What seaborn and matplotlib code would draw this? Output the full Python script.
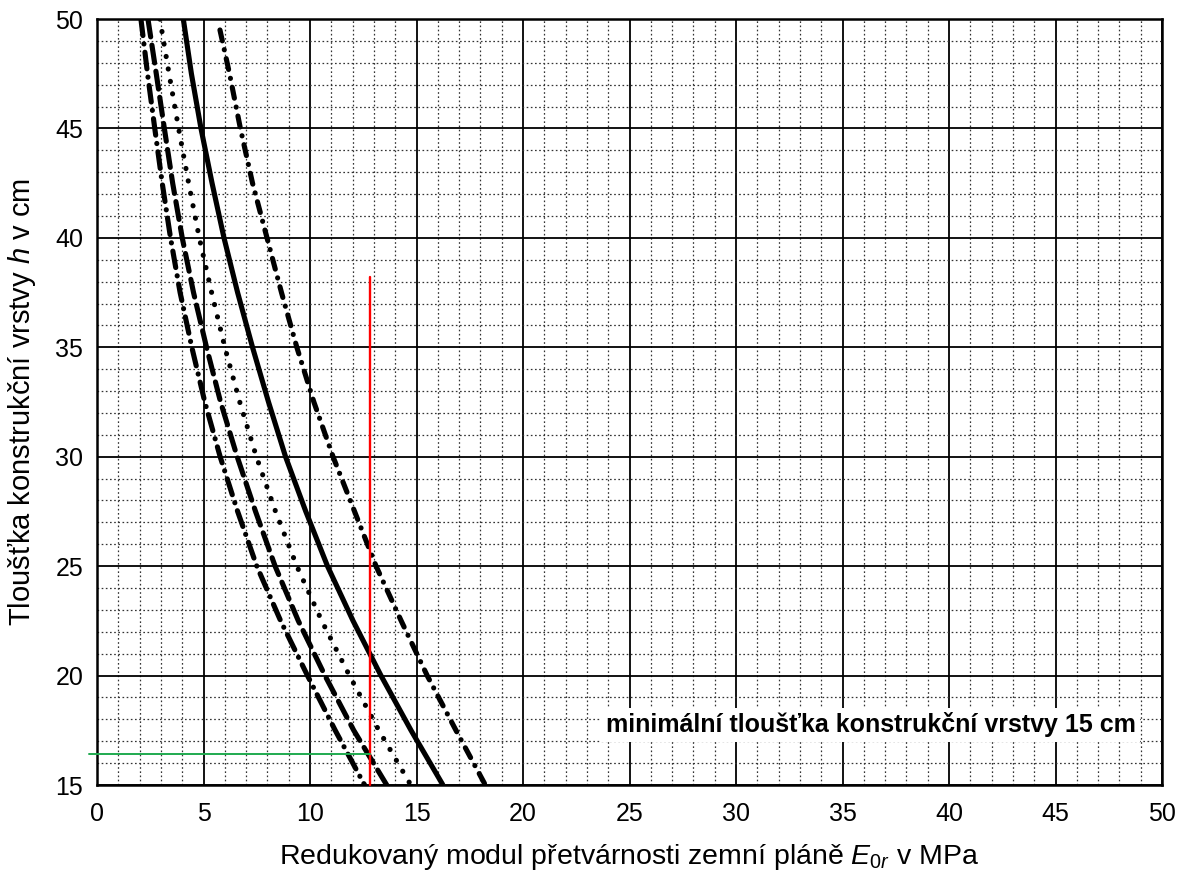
import matplotlib
matplotlib.use("Agg")
import matplotlib.pyplot as plt
import seaborn as sns
import numpy as np
import pandas as pd

# ---- data ----
h_levels = [50, 47.5, 45, 42.5, 40, 37.5, 35, 32.5, 30, 27.5, 25, 22.5, 20, 17.5, 15]
h_right = [49.5, 47.5, 45, 42.5, 40, 37.5, 35, 32.5, 30, 27.5, 25, 22.5, 20, 17.5, 15]

curve_dashdot_left = [2.06, 2.37, 2.71, 3.06, 3.45, 3.90, 4.45, 5.06, 5.78, 6.60, 7.50, 8.62, 9.88, 11.18, 12.56]
curve_dashed = [2.39, 2.78, 3.16, 3.55, 4.00, 4.53, 5.14, 5.80, 6.58, 7.44, 8.36, 9.45, 10.70, 12.05, 13.60]
curve_dotted = [2.95, 3.38, 3.83, 4.30, 4.80, 5.38, 6.00, 6.70, 7.48, 8.38, 9.38, 10.55, 11.85, 13.23, 14.73]
curve_solid = [4.05, 4.43, 4.88, 5.40, 5.96, 6.60, 7.30, 8.05, 8.85, 9.80, 10.82, 12.02, 13.33, 14.74, 16.24]
curve_dashdot_right = [5.77, 6.22, 6.73, 7.30, 7.98, 8.66, 9.38, 10.18, 11.08, 12.09, 13.10, 14.28, 15.50, 16.85, 18.23]

red_x = 12.8
red_y = [15, 38.2]
green_y = 16.4
green_x = [-0.4, 12.8]

x_ticks = [0, 5, 10, 15, 20, 25, 30, 35, 40, 45, 50]
y_ticks = [15, 20, 25, 30, 35, 40, 45, 50]

note_text = "minimální tloušťka konstrukční vrstvy 15 cm"
xlabel = r"Redukovaný modul přetvárnosti zemní pláně $E_{0r}$ v MPa"
ylabel = r"Tloušťka konstrukční vrstvy $h$ v cm"

# ---- style ----
sns.set_theme(style="white")
fam = ["Liberation Sans", "DejaVu Sans"]
plt.rcParams["font.family"] = fam
plt.rcParams["mathtext.fontset"] = "custom"
plt.rcParams["mathtext.it"] = "Liberation Sans:italic"
plt.rcParams["mathtext.rm"] = "Liberation Sans"
plt.rcParams["lines.scale_dashes"] = False
for key in ["text.color", "axes.labelcolor", "xtick.color", "ytick.color"]:
    plt.rcParams[key] = "black"

fig = plt.figure(figsize=(11.85, 8.77), dpi=100)
ax = fig.add_axes([0.0819, 0.1049, 0.8987, 0.8734])

curves = [
    (curve_dashdot_left, h_levels, (0, (12, 6, 0.1, 6))),
    (curve_dashed, h_levels, (0, (13, 6))),
    (curve_dotted, h_levels, (0, (0.1, 9))),
    (curve_solid, h_levels, None),
    (curve_dashdot_right, h_right, (0, (8, 6.5, 0.1, 6.5))),
]

for xs, ys, ls in curves:
    df = pd.DataFrame({"E": xs, "h": ys})
    sns.lineplot(data=df, x="E", y="h", sort=False, color="black",
                 linewidth=3.7, ax=ax, legend=False)
    ln = ax.lines[-1]
    ln.set_solid_capstyle("butt")
    ln.set_solid_joinstyle("round")
    if ls is not None:
        ln.set_linestyle(ls)
        ln.set_dash_capstyle("round")
        ln.set_dash_joinstyle("round")
    ln.set_zorder(4)

# red and green helper lines
ax.plot([red_x, red_x], red_y, color="#ff0000", lw=1.7, zorder=5, clip_on=False)
ax.plot(green_x, [green_y, green_y], color="#1faa4f", lw=1.4, zorder=5, clip_on=False)

# note
ax.text(48.75, 17.75, note_text, ha="right", va="center", fontsize=18,
        fontweight="bold", family=fam, color="black", zorder=6,
        bbox=dict(facecolor="white", edgecolor="none", pad=3))

# axes and grid
ax.set_xlim(0, 50)
ax.set_ylim(15, 50)
ax.set_xticks(x_ticks)
ax.set_yticks(y_ticks)
ax.set_xticks(np.arange(0, 51, 1), minor=True)
ax.set_yticks(np.arange(15, 51, 1), minor=True)
ax.grid(which="major", color="black", linewidth=1.3, linestyle="-", zorder=1)
ax.grid(which="minor", color="#333333", linewidth=0.9, linestyle=(0, (1.2, 1.8)), zorder=1)
ax.set_axisbelow(True)
ax.tick_params(which="both", length=0)
ax.tick_params(axis="x", pad=12, labelsize=18, colors="black")
ax.tick_params(axis="y", pad=10, labelsize=18, colors="black")
for s in ax.spines.values():
    s.set_color("black")
    s.set_linewidth(1.8)

ax.set_xlabel(xlabel, fontsize=20.5, family=fam, labelpad=12, color="black")
ax.set_ylabel(ylabel, fontsize=21, family=fam, labelpad=12, color="black")

fig.savefig("out.png", dpi=100, facecolor="white")
